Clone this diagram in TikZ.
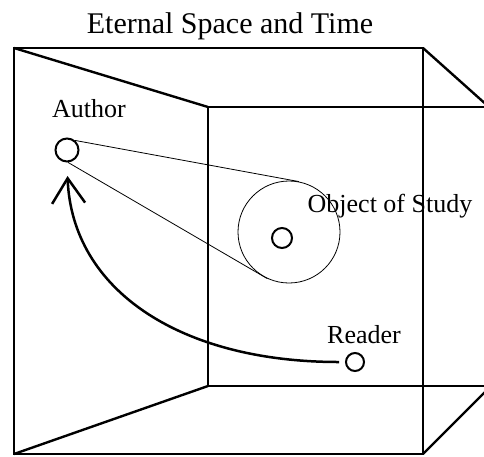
\documentclass[tikz,border=0pt]{standalone}
\usepackage{fontspec}
\setmainfont{Liberation Serif}
\usetikzlibrary{arrows.meta}
\begin{document}
\begin{tikzpicture}[x=1pt, y=-1pt,
    boxline/.style={line width=2.4pt, line join=miter},
    spot/.style={circle, draw, line width=2pt, inner sep=0pt, minimum size=#1},
    word/.style={inner sep=0pt, anchor=base, font=\fontsize{26}{30}\selectfont},
    ray/.style={line width=0.8pt},
    flow/.style={line width=2.5pt, -{Straight Barb[length=25pt, width=33pt]}}]
        \useasboundingbox (0,0) rectangle (484,456);
        \clip (0,0) rectangle (484,456);

        % Box
        \draw[boxline] (14,48) rectangle (423,454);
        \draw[boxline] (490,107) -- (208,107) -- (208,386) -- (490,386);
        \draw[boxline] (14,48) -- (208,107);
        \draw[boxline] (14,454) -- (208,386);
        \draw[boxline] (423,48) -- (489,107);
        \draw[boxline] (423,454) -- (491,386);

        % Nodes
        \node[inner sep=0pt, anchor=base, font=\fontsize{30}{36}\selectfont] (title) at (230,33) {Eternal Space and Time};
        \node[spot=23pt] (author) at (67,150) {};
        \node[word] (authorlbl) at (89,117) {Author};
        \node[circle, draw, ray, inner sep=0pt, minimum size=102pt] (view) at (289,232) {};
        \node[spot=20pt] (object) at (282,238) {};
        \node[word] (objectlbl) at (390,212) {Object of Study};
        \node[spot=18pt] (reader) at (355,362) {};
        \node[word] (readerlbl) at (364,343) {Reader};

        % Edges
        \draw[ray] (author.50) -- (view.79);
        \draw[ray] (author.-85) -- (view.-115);
        \draw[flow, shorten <=6pt, shorten >=13.5pt] (reader.west) .. controls (180,362) and (72,290) .. (author.south);
\end{tikzpicture}
\end{document}
